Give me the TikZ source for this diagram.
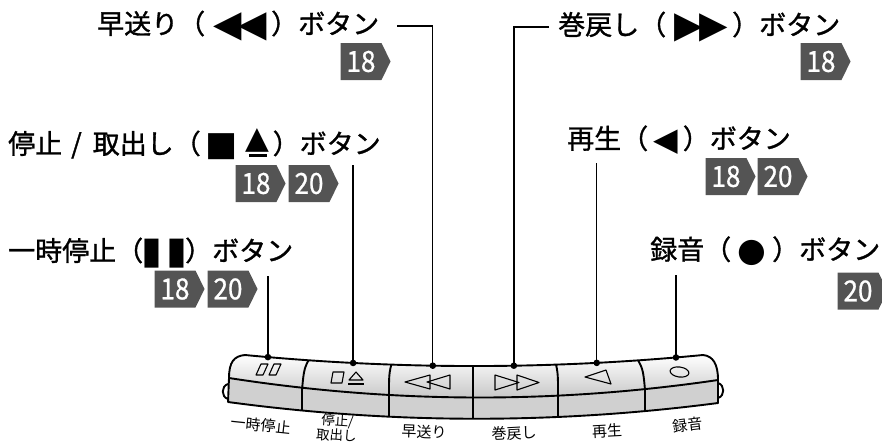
\documentclass[tikz,border=0pt]{standalone}
\usepackage{fontspec}
\setmainfont{Noto Sans CJK JP}
\newfontfamily\lblfont{Noto Sans CJK JP}[FakeBold=1.2]
\newfontfamily\numfont{Noto Sans CJK JP}[FakeStretch=0.9, FakeBold=0.8]
\newfontfamily\symfont{DejaVu Sans}
\usetikzlibrary{shapes.symbols}

\definecolor{pgGray}{HTML}{545454}
\definecolor{faceGray}{HTML}{D0D0D0}

% button symbols inside the labels
\newcommand\symb[3][0pt]{\raisebox{#1}{\symfont\fontsize{#2}{#2}\selectfont #3}}
\newcommand\ejectsym{\raisebox{-3pt}{\vbox{\offinterlineskip\hbox{\symb{31}{▲}}\kern2pt
  \hbox{\kern3pt\vrule width 18.5pt height 2.8pt depth 0pt}}}}

\tikzset{
  lbl/.style={inner sep=0pt, font=\lblfont\fontsize{27}{30}\selectfont},
  pg/.style={shape=signal, signal to=east, signal pointer angle=128,
    fill=pgGray, text=white, minimum width=50pt, minimum height=37pt,
    inner sep=0pt, font=\numfont\fontsize{29}{30}\selectfont},
  keylbl/.style={inner sep=0pt, font=\fontsize{15}{16}\selectfont},
  lead/.style={line width=1.4pt},
  rim/.style={line width=1.9pt, line join=round},
  glyph/.style={line width=1.1pt, line join=round}
}

\begin{document}
\begin{tikzpicture}[x=1pt, y=-1pt]
\useasboundingbox (0,0) rectangle (882,442);

% labels
\node[lbl, anchor=west] (ffLbl) at (97,26) {早送り（\makebox[66pt]{\hspace{4pt}\symb[-3pt]{37}{◀\kern-3pt◀}}）ボタン};
\node[lbl, anchor=west] (rwLbl) at (558,27) {巻戻し（\makebox[66pt]{\hspace{4pt}\symb[-3pt]{37}{▶\kern-3pt▶}}）ボタン};
\node[lbl, anchor=west] (stLbl) at (8,144) {停止\hspace{9pt}/\hspace{11pt}取出し（\hspace{5pt}\symb[-2pt]{34}{■}\hspace{8pt}\ejectsym\hspace{3pt}）ボタン};
\node[lbl, anchor=west] (plLbl) at (567,140) {再生（\hspace{5pt}\symb[-2pt]{32}{◀}\hspace{5pt}）ボタン};
\node[lbl, anchor=west] (psLbl) at (8,253) {一時停止（\makebox[42pt]{\symb[-3pt]{38}{▮}\hspace{4pt}\symb[-3pt]{38}{▮}}）ボタン};
\node[lbl, anchor=west] (rcLbl) at (650,251) {録音（\makebox[41pt]{\symb[-2pt]{33}{●}}）ボタン};

% page numbers
\node[pg] (ffNo) at (361,61.5) {18};
\node[pg] (rwNo) at (821,61.5) {18};
\node[pg] (stNo1) at (256,183.5) {18};
\node[pg] (stNo2) at (309,183.5) {20};
\node[pg] (plNo1) at (726,176.5) {18};
\node[pg] (plNo2) at (778,176.5) {20};
\node[pg] (psNo1) at (175,289) {18};
\node[pg] (psNo2) at (228,289) {20};
\node[pg] (rcNo) at (858,291) {20};

% body of the button strip
\coordinate (TL) at (245,355);
\coordinate (TR) at (703,355);
\fill[faceGray] (229,378) .. controls (391.7,403.3) and (554.7,404) .. (718,380) -- (718,403)
  .. controls (554.7,424.3) and (391.3,424) .. (228,402) -- cycle;
\shade[top color=white, bottom color=gray!50] (229,378) .. controls (229,362) and (234,356) .. (TL)
  .. controls (397.7,369.7) and (550.3,369.7) .. (TR) .. controls (713,356) and (718,364) .. (718,380)
  .. controls (554.7,404) and (391.7,403.3) .. (229,378) -- cycle;
\begin{scope}
  \clip (229,378) .. controls (229,362) and (234,356) .. (TL)
    .. controls (397.7,369.7) and (550.3,369.7) .. (TR) .. controls (713,356) and (718,364) .. (718,380)
    -- (718,403) .. controls (554.7,424.3) and (391.3,424) .. (228,402) -- cycle;
  \draw[rim] (313,352) .. controls (304,368) .. (302,390) -- (302,425);
  \draw[rim] (395,352) .. controls (389,372) .. (389,392) -- (389,425);
  \draw[rim] (473,352) -- (473,425);
  \draw[rim] (553,352) .. controls (558,372) .. (558,392) -- (558,425);
  \draw[rim] (633,352) .. controls (643,368) .. (645,390) -- (645,425);
\end{scope}
\draw[rim] (229,378) .. controls (391.7,403.3) and (554.7,404) .. (718,380);
\draw[rim] (229,378) .. controls (229,362) and (234,356) .. (TL)
  .. controls (397.7,369.7) and (550.3,369.7) .. (TR) .. controls (713,356) and (718,364) .. (718,380)
  -- (718,403) .. controls (554.7,424.3) and (391.3,424) .. (228,402) -- cycle;
\draw[rim] (228,384) .. controls (221,386) and (221,397) .. (228,399);
\draw[rim] (718,383) .. controls (725,385) and (725,396) .. (718,398);

% key markings
\draw[glyph] (261,364) -- (268,364) -- (263,375) -- (256,375) -- cycle;
\draw[glyph] (274,364) -- (281,364) -- (276,375) -- (269,375) -- cycle;
\draw[glyph] (333,372) -- (344,372) -- (342,383) -- (331,383) -- cycle;
\draw[glyph] (349,380) -- (356,372) -- (363,380) -- cycle;
\draw[glyph] (348,384) -- (364,384);
\draw[glyph] (405,382) -- (430,375) -- (430,389) -- cycle;
\draw[glyph] (427,382) -- (450,375) -- (450,389) -- cycle;
\draw[glyph] (495,375) -- (519,382.5) -- (495,390) -- cycle;
\draw[glyph] (517,375) -- (539,382.5) -- (517,390) -- cycle;
\draw[glyph] (585,377) -- (606,370) -- (611,384) -- cycle;
\draw[glyph, rotate around={-8:(679.5,372)}] (679.5,372) ellipse (9.5 and 5);

% key names
\node[keylbl, rotate=-6] (psKey) at (261,425) {一時停止};
\node[keylbl, font=\fontsize{13.5}{13}\selectfont, align=center, rotate=-4] (stKey) at (337,428) {停止/\\取出し};
\node[keylbl, rotate=-2] (ffKey) at (424,432) {早送り};
\node[keylbl, rotate=3] (rwKey) at (514,433) {巻戻し};
\node[keylbl, rotate=3] (plKey) at (607,431) {再生};
\node[keylbl, rotate=7] (rcKey) at (688,425) {録音};

% leaders
\path (TL) .. controls (397.7,369.7) and (550.3,369.7) .. (TR)
  coordinate[pos=0.050] (psDot) coordinate[pos=0.236] (stDot)
  coordinate[pos=0.410] (ffDot) coordinate[pos=0.587] (rwDot)
  coordinate[pos=0.768] (plDot) coordinate[pos=0.941] (rcDot);
\draw[lead] ([xshift=18pt]ffLbl.east) -| (ffDot);
\draw[lead] ([xshift=-9pt]rwLbl.west) -| (rwDot);
\draw[lead] (stDot) -- (stDot |- stNo2.north);
\draw[lead] (plDot) -- ([yshift=-5pt]plDot |- plNo1.north);
\draw[lead] (psDot) -- ([yshift=-6pt]psDot |- psNo2.north);
\draw[lead] (rcDot) -- ([yshift=-3pt]rcDot |- rcNo.north);
\foreach \d in {psDot,stDot,ffDot,rwDot,plDot,rcDot}
  \fill (\d) circle (3.3pt);
\end{tikzpicture}
\end{document}
